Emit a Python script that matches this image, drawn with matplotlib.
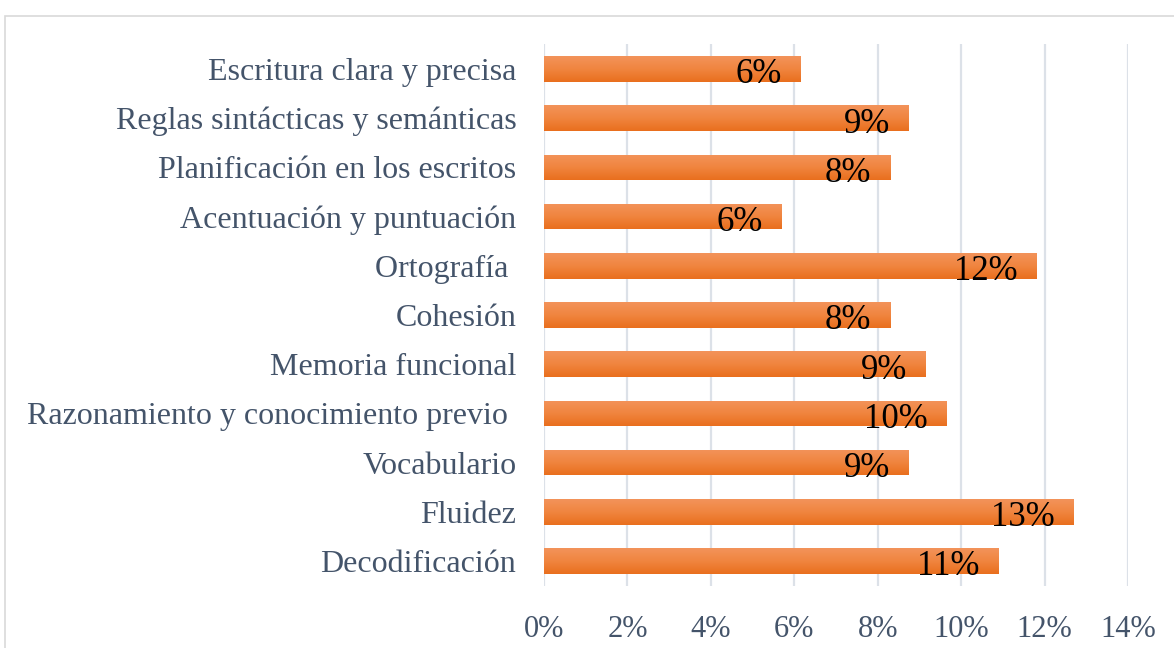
import matplotlib.pyplot as plt
import numpy as np
from matplotlib.patches import Rectangle
from matplotlib.colors import LinearSegmentedColormap

plt.rcParams['font.family'] = ['Liberation Serif', 'DejaVu Serif']

categorias = ["Decodificación", "Fluidez", "Vocabulario",
              "Razonamiento y conocimiento previo ", "Memoria funcional",
              "Cohesión", "Ortografía ", "Acentuación y puntuación",
              "Planificación en los escritos", "Reglas sintácticas y semánticas",
              "Escritura clara y precisa"]
valores = [10.9, 12.7, 8.75, 9.65, 9.15, 8.3, 11.8, 5.7, 8.3, 8.75, 6.15]
etiquetas = ["11%", "13%", "9%", "10%", "9%", "8%", "12%", "6%", "8%", "9%", "6%"]
xticks = [0, 2, 4, 6, 8, 10, 12, 14]

fig = plt.figure(figsize=(11.74, 6.48), dpi=100)
ax = fig.add_axes([0.4634, 0.0963, 0.4974, 0.8352])

# marco exterior del gráfico
fig.patches.append(Rectangle((5 / 1174, -0.1), 1.2, 1.1 - 16 / 648,
                             transform=fig.transFigure, fill=False,
                             edgecolor='#D9D9D9', linewidth=1.2))

y = np.arange(len(categorias))
alto = 0.52
barras = ax.barh(y, valores, height=alto, color='#ED7D31', zorder=2)

# degradado naranja como en Excel
cmap = LinearSegmentedColormap.from_list('nar', ['#E96F1E', '#F0853F', '#F3935A'])
grad = np.linspace(0, 1, 64).reshape(-1, 1)
for b in barras:
    x0, y0 = b.get_x(), b.get_y()
    im = ax.imshow(grad, cmap=cmap, aspect='auto', origin='lower',
                   extent=[x0, x0 + b.get_width(), y0, y0 + b.get_height()],
                   zorder=3)
    im.set_clip_path(b)

for yi, v, t in zip(y, valores, etiquetas):
    ax.text(v - 0.45, yi - 0.12, t, ha='right', va='center',
            fontsize=25, color='black', zorder=4)

ax.set_xlim(0, 14)
ax.set_ylim(-0.5, len(categorias) - 0.5)
ax.set_xticks(xticks)
ax.set_xticklabels([f"{t}%" for t in xticks])
ax.set_yticks(y)
ax.set_yticklabels(categorias)
ax.tick_params(axis='y', length=0, labelsize=23, labelcolor='#44546A', pad=20)
ax.tick_params(axis='x', length=0, labelsize=22, labelcolor='#44546A', pad=21)
ax.grid(axis='x', color='#DCE1E8', linewidth=1.6, zorder=0)
ax.set_axisbelow(True)
for s in ax.spines.values():
    s.set_visible(False)

fig.savefig('out.png', dpi=100)
